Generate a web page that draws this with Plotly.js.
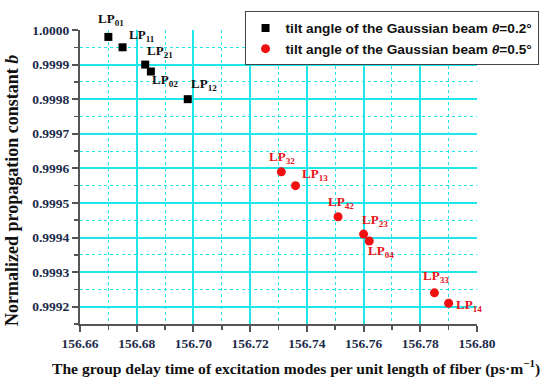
<!DOCTYPE html>
<html>
<head>
<meta charset="utf-8">
<script src="https://cdn.plot.ly/plotly-3.0.1.min.js"></script>
<style>html,body{margin:0;padding:0;background:#fff;}#chart{width:550px;height:381px;}</style>
</head>
<body>
<div id="chart"></div>
<script>
// Data
const modes02 = ["01", "11", "21", "02", "12"];
const delay02 = [156.670, 156.675, 156.683, 156.685, 156.698];
const b02 = [0.99998, 0.99995, 0.99990, 0.99988, 0.99980];

const modes05 = ["32", "13", "42", "23", "04", "33", "14"];
const delay05 = [156.731, 156.736, 156.751, 156.760, 156.762, 156.785, 156.790];
const b05 = [0.99959, 0.99955, 0.99946, 0.99941, 0.99939, 0.99924, 0.99921];

// tick labels
const xTickVals = [156.66, 156.68, 156.70, 156.72, 156.74, 156.76, 156.78, 156.80];
const xTickText = ["156.66", "156.68", "156.70", "156.72", "156.74", "156.76", "156.78", "156.80"];
const yTickVals = [0.9992, 0.9993, 0.9994, 0.9995, 0.9996, 0.9997, 0.9998, 0.9999, 1.0000];
const yTickText = ["0.9992", "0.9993", "0.9994", "0.9995", "0.9996", "0.9997", "0.9998", "0.9999", "1.0000"];
// grid positions (no grid on top/right border)
const xGridMajor = [156.66, 156.68, 156.70, 156.72, 156.74, 156.76, 156.78];
const xGridMinor = [156.67, 156.69, 156.71, 156.73, 156.75, 156.77, 156.79];
const yGridMajor = [0.9992, 0.9993, 0.9994, 0.9995, 0.9996, 0.9997, 0.9998, 0.9999];
const yGridMinor = [0.99925, 0.99935, 0.99945, 0.99955, 0.99965, 0.99975, 0.99985, 0.99995];

// label offsets (pixels: right, down) per mode
const off02 = [[3, -17], [19, -12], [15, -13], [14, 9], [16, -15]];
const off05 = [[1, -14], [19, -11], [3, -14], [11, -14], [12, 11], [2, -16], [20, 2]];

const serif = "Liberation Serif, Times New Roman, serif";
const tickCol = "#1c2a4a";
const cyan = "#1ee6ea";
const bold = s => "<b>" + s + "</b>";

const annotations = [];
modes02.forEach((m, i) => annotations.push({
  x: delay02[i], y: b02[i], xref: "x", yref: "y",
  text: "<b>LP<sub>" + m + "</sub></b>", showarrow: false,
  xshift: off02[i][0], yshift: -off02[i][1],
  font: {family: serif, size: 13, color: "#111", weight: 700}
}));
modes05.forEach((m, i) => annotations.push({
  x: delay05[i], y: b05[i], xref: "x", yref: "y",
  text: "<b>LP<sub>" + m + "</sub></b>", showarrow: false,
  xshift: off05[i][0], yshift: -off05[i][1],
  font: {family: serif, size: 13, color: "#e8141a", weight: 700}
}));
// axis titles
annotations.push({
  xref: "paper", yref: "paper", x: 0.543, y: -0.147, xanchor: "center", yanchor: "middle",
  text: "<b>The group delay time of excitation modes per unit length of fiber (ps·m<sup>−1</sup>)</b>",
  showarrow: false, font: {family: serif, size: 15.6, color: "#111", weight: 700}
});
annotations.push({
  xref: "paper", yref: "paper", x: -0.171, y: 0.453, xanchor: "center", yanchor: "middle",
  textangle: -90, text: "<b>Normalized propagation constant <i>b</i></b>",
  showarrow: false, font: {family: serif, size: 18, color: "#111", weight: 700}
});

const data = [
  {x: delay02, y: b02, mode: "markers", type: "scatter",
   name: "tilt angle of the Gaussian beam <i>θ</i>=0.2°",
   marker: {symbol: "square", size: 8, color: "#000"}},
  {x: delay05, y: b05, mode: "markers", type: "scatter", xaxis: "x2", yaxis: "y2",
   name: "tilt angle of the Gaussian beam <i>θ</i>=0.5°",
   marker: {symbol: "circle", size: 9, color: "#f01010"}}
];

const xRange = [156.66, 156.80];
const yRange = [0.99915, 1.0000];

const layout = {
  width: 550, height: 381,
  margin: {l: 80, r: 67, t: 24, b: 57},
  paper_bgcolor: "#fff", plot_bgcolor: "#fff",
  showlegend: true,
  legend: {x: 1.155, xanchor: "right", y: 1.063, yanchor: "top",
    bgcolor: "#fff", bordercolor: "#444", borderwidth: 1,
    font: {family: "Liberation Sans, Arial, sans-serif", size: 13.7, color: "#111", weight: 700},
    tracegroupgap: 0},
  // grid-only axes
  xaxis: {
    range: xRange, tickmode: "array", tickvals: xGridMajor, showticklabels: false, ticks: "",
    showline: false, showgrid: true, gridcolor: cyan, gridwidth: 2, zeroline: false,
    minor: {tickmode: "array", tickvals: xGridMinor, showgrid: true, gridcolor: cyan, gridwidth: 1, griddash: "dot", ticks: ""}
  },
  yaxis: {
    range: yRange, tickmode: "array", tickvals: yGridMajor, showticklabels: false, ticks: "",
    showline: false, showgrid: true, gridcolor: cyan, gridwidth: 2, zeroline: false,
    minor: {tickmode: "array", tickvals: yGridMinor, showgrid: true, gridcolor: cyan, gridwidth: 1, griddash: "dot", ticks: ""}
  },
  // labelled axes
  xaxis2: {
    overlaying: "x", anchor: "y2", side: "bottom",
    range: xRange, tickmode: "array", tickvals: xTickVals, ticktext: xTickText.map(bold),
    showline: true, linecolor: "#555", linewidth: 2, showgrid: false, zeroline: false,
    ticks: "outside", ticklen: 6, tickwidth: 2, tickcolor: "#555",
    tickfont: {family: serif, size: 13.5, color: tickCol, weight: 700},
    minor: {dtick: 0.01, showgrid: false, ticks: "outside", ticklen: 4, tickwidth: 1.5, tickcolor: "#555"}
  },
  yaxis2: {
    overlaying: "y", anchor: "x2", side: "left",
    range: yRange, tickmode: "array", tickvals: yTickVals, ticktext: yTickText.map(bold),
    showline: true, linecolor: "#555", linewidth: 2, showgrid: false, zeroline: false,
    ticks: "outside", ticklen: 6, tickwidth: 2, tickcolor: "#555",
    tickfont: {family: serif, size: 13.5, color: tickCol, weight: 700},
    minor: {dtick: 0.00005, showgrid: false, ticks: "outside", ticklen: 4, tickwidth: 1.5, tickcolor: "#555"}
  },
  annotations: annotations
};

Plotly.newPlot("chart", data, layout, {displayModeBar: false, staticPlot: true});
</script>
</body>
</html>
